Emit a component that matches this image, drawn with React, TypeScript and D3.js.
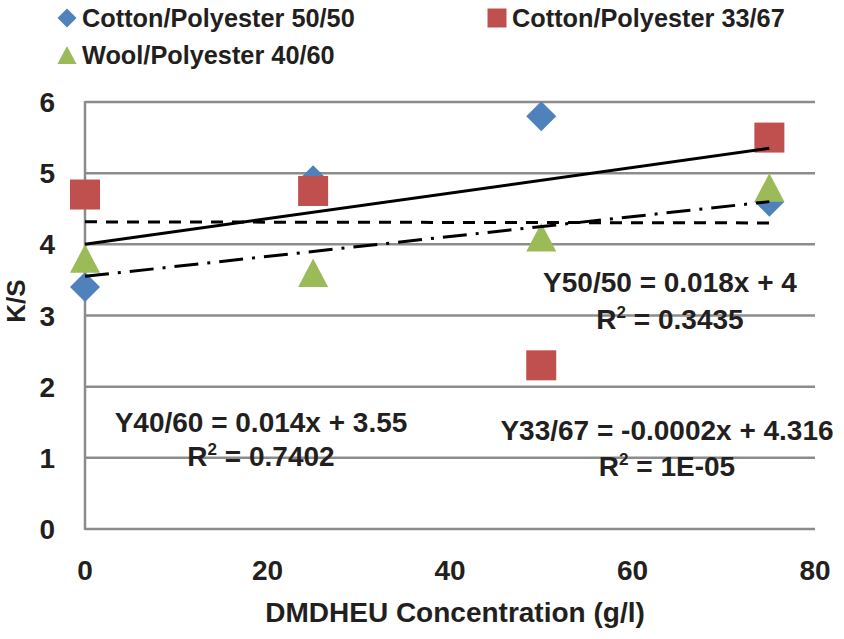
import { useEffect, useRef } from 'react'
import * as d3 from 'd3'

// values
const concentrations = [0, 25, 50, 75]
const seriesNames = ['Cotton/Polyester 50/50', 'Cotton/Polyester 33/67', 'Wool/Polyester 40/60']
const ks5050 = [3.4, 4.9, 5.8, 4.6]
const ks3367 = [4.7, 4.75, 2.3, 5.5]
const ks4060 = [3.8, 3.6, 4.1, 4.8]
const seriesColors = ['#4F81BD', '#C0504D', '#9BBB59']
const trendSlopes = [0.018, -0.0002, 0.014]
const trendIntercepts = [4, 4.316, 3.55]
const trendDash = ['none', '12,9', '24,9,3,9']
const equationLines = [
  ['Y50/50 = 0.018x + 4', '0.3435'],
  ['Y33/67 = -0.0002x + 4.316', '1E-05'],
  ['Y40/60 = 0.014x + 3.55', '0.7402'],
]
const xTicks = [0, 20, 40, 60, 80]
const yTicks = [0, 1, 2, 3, 4, 5, 6]

const FONT = "'Liberation Sans', Arial, sans-serif"
const INK = '#231F20'
const W = 844, H = 639

type Shape = 'diamond' | 'square' | 'triangle'
const shapes: Shape[] = ['diamond', 'square', 'triangle']

function markerPath(shape: Shape, cx: number, cy: number, s: number) {
  const h = s / 2
  if (shape === 'diamond') return `M${cx},${cy-h}L${cx+h},${cy}L${cx},${cy+h}L${cx-h},${cy}Z`
  if (shape === 'square') return `M${cx-h},${cy-h}h${s}v${s}h${-s}Z`
  const th = s * 0.95
  return `M${cx},${cy-th/2}L${cx+h},${cy+th/2}L${cx-h},${cy+th/2}Z`
}

export default function App() {
  const svgRef = useRef<SVGSVGElement>(null)

  useEffect(() => {
    document.body.style.margin = '0'
    const svg = d3.select(svgRef.current)
    svg.selectAll('*').remove()

    const xSc = d3.scaleLinear().domain([0, 80]).range([85, 815])
    const ySc = d3.scaleLinear().domain([0, 6]).range([529, 102])
    const grid = '#8C8C8C'

    svg.append('rect').attr('width', W).attr('height', H).attr('fill', '#fff')

    // gridlines + axes
    yTicks.forEach(t => {
      svg.append('line').attr('x1', xSc(0)).attr('x2', xSc(80)).attr('y1', ySc(t)).attr('y2', ySc(t))
        .attr('stroke', grid).attr('stroke-width', 2.5)
      svg.append('text').attr('x', 55).attr('y', ySc(t) + 10).attr('text-anchor', 'end')
        .attr('font-family', FONT).attr('font-weight', 'bold').attr('font-size', 28).attr('fill', INK).text(t)
    })
    svg.append('line').attr('x1', xSc(0)).attr('x2', xSc(0)).attr('y1', ySc(6) - 1).attr('y2', ySc(0) + 1)
      .attr('stroke', grid).attr('stroke-width', 2.5)
    xTicks.forEach(t => {
      svg.append('text').attr('x', xSc(t)).attr('y', 580).attr('text-anchor', 'middle')
        .attr('font-family', FONT).attr('font-weight', 'bold').attr('font-size', 28).attr('fill', INK).text(t)
    })

    // axis titles
    svg.append('text').attr('x', 455).attr('y', 622).attr('text-anchor', 'middle')
      .attr('font-family', FONT).attr('font-weight', 'bold').attr('font-size', 28).attr('fill', INK)
      .text('DMDHEU Concentration (g/l)')
    svg.append('text').attr('transform', 'translate(25,301) rotate(-90)').attr('text-anchor', 'middle')
      .attr('font-family', FONT).attr('font-weight', 'bold').attr('font-size', 26).attr('fill', INK)
      .text('K/S')

    // markers
    const allSeries = [ks5050, ks3367, ks4060]
    allSeries.forEach((vals, si) => {
      vals.forEach((v, i) => {
        svg.append('path').attr('d', markerPath(shapes[si], xSc(concentrations[i]), ySc(v), 30))
          .attr('fill', seriesColors[si])
      })
    })

    // trend lines (from the displayed equations)
    const line = d3.line<number>().x(d => xSc(d[0])).y(d => ySc(d[1]))
    trendSlopes.forEach((m, si) => {
      const x0 = concentrations[0], x1 = concentrations[concentrations.length - 1]
      const pts: any = [[x0, trendIntercepts[si] + m * x0], [x1, trendIntercepts[si] + m * x1]]
      svg.append('path').attr('d', line(pts)).attr('fill', 'none').attr('stroke', '#000')
        .attr('stroke-width', 3).attr('stroke-dasharray', trendDash[si])
    })

    // equation labels
    const eqPos = [[670, 292, 329], [667, 440, 476], [261, 432, 466]]
    equationLines.forEach(([eq, r2], i) => {
      const [cx, y1, y2] = eqPos[i]
      svg.append('text').attr('x', cx).attr('y', y1).attr('text-anchor', 'middle')
        .attr('font-family', FONT).attr('font-weight', 'bold').attr('font-size', 28).attr('fill', INK).text(eq)
      const t = svg.append('text').attr('x', cx).attr('y', y2).attr('text-anchor', 'middle')
        .attr('font-family', FONT).attr('font-weight', 'bold').attr('font-size', 28).attr('fill', INK)
      t.append('tspan').text('R')
      t.append('tspan').attr('font-size', 17).attr('dy', -11).text('2')
      t.append('tspan').attr('dy', 11).text(` = ${r2}`)
    })

    // legend
    const legendPos = [[67, 18], [497, 18], [67, 55]]
    seriesNames.forEach((name, si) => {
      const [cx, cy] = legendPos[si]
      svg.append('path').attr('d', markerPath(shapes[si], cx, cy, 19)).attr('fill', seriesColors[si])
      svg.append('text').attr('x', cx + 15).attr('y', cy + 9)
        .attr('font-family', FONT).attr('font-weight', 'bold').attr('font-size', 25.3).attr('fill', INK).text(name)
    })
  }, [])

  return <svg ref={svgRef} width={W} height={H} style={{ display: 'block' }} />
}
